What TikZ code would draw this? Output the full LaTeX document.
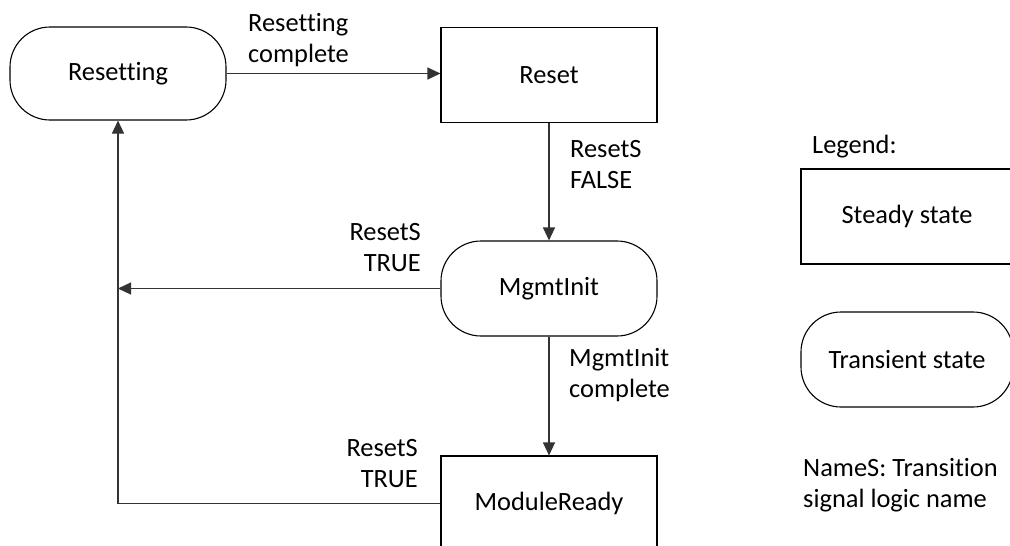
\documentclass[tikz,border=0pt]{standalone}
\usepackage{fontspec}
\setmainfont[Ligatures={NoCommon}]{Carlito}
\usetikzlibrary{arrows.meta}
\begin{document}
\begin{tikzpicture}[x=1pt,y=-1pt,
  every node/.style={font=\fontsize{26.4}{31}\selectfont},
  steadybox/.style={draw=black,line width=1.1pt,minimum width=216pt,minimum height=95pt,inner sep=0pt},
  transbox/.style={steadybox,rounded corners=40pt},
  link/.style={draw=black!80,line width=1.1pt},
  arr/.style={link,-{Triangle[length=13pt,width=12pt]}},
  lbl/.style={inner sep=0pt,align=left}
]
\useasboundingbox (0,0) rectangle (1010,546);
\clip (0,0) rectangle (1010,546);

% states
\node[transbox,minimum height=93pt] (resetting) at (118,73.5) {Resetting};
\node[steadybox] (reset) at (549,75) {Reset};
\node[transbox] (mgmt) at (549,288.5) {MgmtInit};
\node[steadybox] (ready) at (549,503.5) {ModuleReady};

% transitions
\draw[arr] (resetting.east) -- (resetting.east -| reset.west);
\draw[arr] (reset.south) -- (mgmt.north);
\draw[arr] (mgmt.south) -- (ready.north);
\coordinate (back) at (ready.west -| resetting.south);
\draw[arr] (mgmt.west) -- (mgmt.west -| resetting.south);
\draw[arr] (ready.west) -- (back) -- (resetting.south);

% transition labels (base anchor sits on the last line)
\node[lbl,anchor=base west] (l1) at (248,62) {Resetting\\complete};
\node[lbl,anchor=base west] (l2) at (570,188) {ResetS\\FALSE};
\node[lbl,anchor=base east,align=right] (l3) at (421,271) {ResetS\\TRUE};
\node[lbl,anchor=base west] (l4) at (569,397) {MgmtInit\\complete};
\node[lbl,anchor=base east,align=right] (l5) at (418,487) {ResetS\\TRUE};

% legend
\node[lbl,anchor=base west] (legend) at (812,153) {Legend:};
\node[steadybox,minimum width=212pt] (lsteady) at (907,216.5) {Steady state};
\node[transbox,minimum width=212pt] (ltrans) at (907,359.5) {Transient state};
\node[lbl,anchor=base west] (lnote) at (803,507) {NameS: Transition\\signal logic name};
\end{tikzpicture}
\end{document}
